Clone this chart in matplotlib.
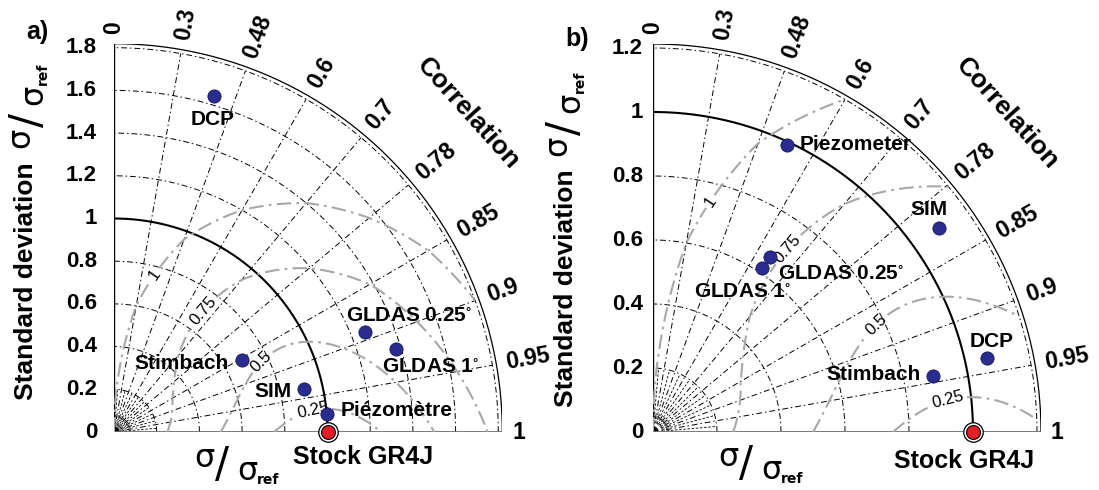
import numpy as np
import matplotlib
matplotlib.use("Agg")
from matplotlib import pyplot as plt
from matplotlib.patches import Wedge

plt.rcParams['font.family'] = ['Liberation Sans', 'DejaVu Sans']
plt.rcParams['mathtext.default'] = 'regular'

W, H = 1099, 490

# correlation scale printed along the arc (one spoke every 10 degrees)
corr_ticks = [0, 0.3, 0.48, 0.6, 0.7, 0.78, 0.85, 0.9, 0.95, 1]
corr_tick_labels = ["0", "0.3", "0.48", "0.6", "0.7", "0.78", "0.85", "0.9", "0.95", "1"]
rms_levels = [0.25, 0.5, 0.75, 1]
ref_name = "Stock GR4J"

# panel a
names_a = ["DCP", "GLDAS 0.25$^{\\circ}$", "GLDAS 1$^{\\circ}$", "Stimbach", "SIM", "Piézomètre"]
std_a = [1.643, 1.266, 1.378, 0.688, 0.914, 1.003]
corr_a = [0.419, 0.891, 0.918, 0.853, 0.937, 0.976]
std_ticks_a = [0, 0.2, 0.4, 0.6, 0.8, 1, 1.2, 1.4, 1.6, 1.8]
std_labels_a = ["0", "0.2", "0.4", "0.6", "0.8", "1", "1.2", "1.4", "1.6", "1.8"]

# panel b
names_b = ["Piezometer", "SIM", "GLDAS 0.25$^{\\circ}$", "GLDAS 1$^{\\circ}$", "DCP", "Stimbach"]
std_b = [0.990, 1.097, 0.658, 0.614, 1.070, 0.893]
corr_b = [0.541, 0.811, 0.637, 0.636, 0.938, 0.944]
std_ticks_b = [0, 0.2, 0.4, 0.6, 0.8, 1, 1.2]
std_labels_b = ["0", "0.2", "0.4", "0.6", "0.8", "1", "1.2"]

spoke_deg = np.linspace(90, 0, len(corr_ticks))

GRID_LS = (0, (6, 3, 1.5, 3))
RMS_LS = (0, (7, 2.5, 1.3, 2.5))


def corr_to_theta(r):
    return np.radians(np.interp(r, corr_ticks, spoke_deg))


def theta_to_corr(th):
    return np.interp(np.degrees(th), spoke_deg[::-1], corr_ticks[::-1])


def fxy(px, py):
    return px / W, 1 - py / H


def sigma_label(fig, cx, cy, vertical):
    # sigma / sigma_ref written as a slanted fraction
    parts = [("σ", (-18, -7), 23, 'normal'), ("/", (0, 0), 30, 'normal'),
             ("σ", (25, 6), 23, 'normal'), ("ref", (46, 15), 10, 'bold')]
    for s, (dx, dy), size, wt in parts:
        if vertical:
            dx, dy = dy, -dx
        fig.text(*fxy(cx + dx, cy + dy), s, fontsize=size, fontweight=wt,
                 family='DejaVu Sans', ha='center', va='center',
                 rotation=90 if vertical else 0)


def taylor_panel(fig, ox, oy, unit, rmax, ticks, tick_labels, tick_gap,
                 std, corr, names, offsets, ref_offset, clabel_xy):
    rb = rmax + 4 / unit
    x0, y0 = fxy(ox, oy)
    ax = fig.add_axes([x0, y0, rb * unit / W, rb * unit / H])
    ax.set_xlim(0, rb)
    ax.set_ylim(0, rb)
    ax.axis('off')
    th = np.linspace(0, np.pi / 2, 300)

    # std arcs
    for r in np.arange(0.2, rmax + 0.01, 0.2):
        if abs(r - 1) < 1e-6:
            continue
        ax.plot(r * np.cos(th), r * np.sin(th), color='k', lw=0.7, ls=GRID_LS)
    ax.plot(np.cos(th), np.sin(th), color='k', lw=1.5)
    ax.plot(rb * np.cos(th), rb * np.sin(th), color='k', lw=0.9)

    # correlation spokes
    for d in spoke_deg[1:-1]:
        t = np.radians(d)
        ax.plot([0, rmax * np.cos(t)], [0, rmax * np.sin(t)], color='k', lw=0.7, ls=GRID_LS)
    for d in np.arange(5, 90, 10):
        t = np.radians(d)
        ax.plot([0.03 * np.cos(t), 0.2 * np.cos(t)], [0.03 * np.sin(t), 0.2 * np.sin(t)],
                color='k', lw=0.6, ls=(0, (3, 2)))
    ax.add_patch(Wedge((0, 0), 5 / unit, 0, 90, color='#505050', lw=0))

    # axes lines
    ax.plot([0, 0], [0, rb], color='k', lw=1)
    ax.plot([0, rb], [0, 0], color='#707070', lw=2, solid_capstyle='butt')

    # rms difference contours
    s = np.linspace(0.001, rmax, 300)
    tt = np.linspace(0, np.pi / 2, 300)
    S, T = np.meshgrid(s, tt)
    C = theta_to_corr(T)
    E = np.sqrt(1 + S ** 2 - 2 * S * C)
    cs = ax.contour(S * np.cos(T), S * np.sin(T), E, levels=rms_levels, colors='#a8a8a8',
                    linewidths=1.5)
    cs.set_linestyle(RMS_LS)
    ax.clabel(cs, fmt=lambda v: f"{v:g}", manual=clabel_xy, inline=True,
              inline_spacing=3, fontsize=12, colors='k')

    # std tick labels
    for v, lab in zip(ticks, tick_labels):
        ax.text(-tick_gap / unit, v, lab, ha='right', va='center', fontsize=16,
                fontweight='bold', clip_on=False)

    # correlation labels
    for d, lab in zip(spoke_deg, corr_tick_labels):
        t = np.radians(d)
        rl = rb + 10 / unit
        ax.text(rl * np.cos(t), rl * np.sin(t), lab, rotation=d, rotation_mode='anchor',
                ha='left', va='center', fontsize=16.5, fontweight='bold', clip_on=False)
    t = np.radians(42)
    rl = rb + 88 / unit
    ax.text(rl * np.cos(t), rl * np.sin(t), "Correlation", rotation=42 - 90,
            rotation_mode='anchor', ha='center', va='center', fontsize=19,
            fontweight='bold', clip_on=False)

    # points
    th_pts = corr_to_theta(np.array(corr))
    xs = np.array(std) * np.cos(th_pts)
    ys = np.array(std) * np.sin(th_pts)
    ax.plot(xs, ys, 'o', ms=9.5, mfc='#2b2d8e', mec='#15165a', mew=0.6, ls='none',
            zorder=5, clip_on=False)
    for x, y, name, off in zip(xs, ys, names, offsets):
        ax.annotate(name, (x, y), xytext=off, textcoords='offset pixels', ha='center',
                    va='center', fontsize=15, fontweight='bold', zorder=6)

    ax.plot(1, 0, 'o', ms=14, mfc='white', mec='k', mew=0.9, zorder=6, clip_on=False)
    ax.plot(1, 0, 'o', ms=10, mfc='#e41e26', mec='k', mew=0.8, zorder=7, clip_on=False)
    ax.annotate(ref_name, (1, 0), xytext=ref_offset, textcoords='offset pixels',
                ha='center', va='center', fontsize=18, fontweight='bold',
                annotation_clip=False)
    return ax


fig = plt.figure(figsize=(W / 100, H / 100), dpi=100)

taylor_panel(fig, 114, 432, 213.5, 1.8, std_ticks_a, std_labels_a, 17,
             std_a, corr_a, names_a,
             [(-2, -24), (44, 16), (34, -18), (-60, -4), (-31, -2), (69, 4)], (36, -25),
             [(0.925, 0.134), (0.676, 0.345), (0.403, 0.579), (0.171, 0.751)])
taylor_panel(fig, 653, 432, 320, 1.2, std_ticks_b, std_labels_b, 10,
             std_b, corr_b, names_b,
             [(68, 1), (-10, 18), (71, -17), (-19, -23), (4, 17), (-60, 2)], (-9, -29),
             [(0.919, 0.110), (0.695, 0.340), (0.406, 0.584), (0.181, 0.719)])

# axis titles
fig.text(*fxy(26, 281), "Standard deviation", rotation=90, ha='center', va='center',
         fontsize=19, fontweight='bold')
fig.text(*fxy(566, 288), "Standard deviation", rotation=90, ha='center', va='center',
         fontsize=19, fontweight='bold')
sigma_label(fig, 28, 120, True)
sigma_label(fig, 565, 128, True)
sigma_label(fig, 222, 465, False)
sigma_label(fig, 746, 464, False)

fig.text(*fxy(37, 32), "a)", ha='center', va='center', fontsize=18, fontweight='bold')
fig.text(*fxy(577, 39), "b)", ha='center', va='center', fontsize=18, fontweight='bold')

fig.savefig("out.png", dpi=100)
